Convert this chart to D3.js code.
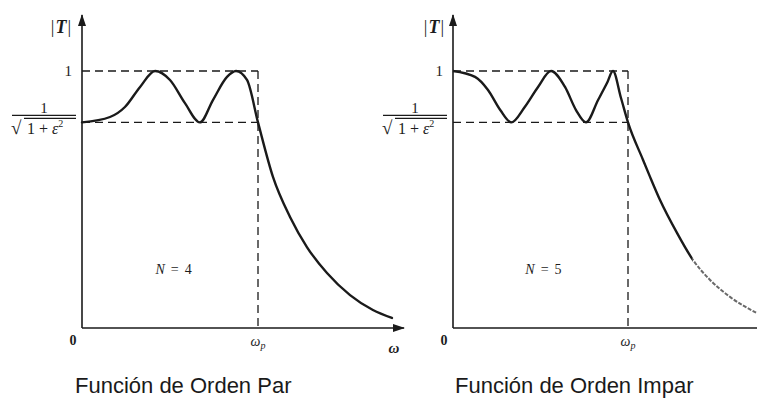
<!DOCTYPE html>
<html>
<head>
<meta charset="utf-8">
<script src="https://cdn.jsdelivr.net/npm/d3@7"></script>
<style>
  html, body { margin: 0; padding: 0; background: #fff; }
  svg { display: block; }
  .math { font-family: "Liberation Serif", "DejaVu Serif", serif; fill: #1c1c1c; }
  .caption { font-family: "Liberation Sans", Arial, sans-serif; fill: #1a1a1a; }
</style>
</head>
<body>
<svg id="chart" width="757" height="398"></svg>
<script>
// Chebyshev low-pass magnitude |T(ω)|, frequency normalised so that ωp = 1.
// Even order (N = 4): passband starts at the ripple floor.
const omegaPar = [0, 0.159, 0.244, 0.33, 0.415, 0.5, 0.585, 0.67, 0.744, 0.824, 0.875, 0.9375,
                  1.0, 1.085, 1.182, 1.278, 1.392, 1.523, 1.653, 1.761];
const magPar   = [0.80, 0.821, 0.860, 0.938, 1.0, 0.965, 0.875, 0.80, 0.887, 0.977, 1.0, 0.965,
                  0.80, 0.588, 0.432, 0.315, 0.214, 0.128, 0.070, 0.039];

// Odd order (N = 5): passband starts at unity.
const omegaImpar = [0, 0.126, 0.2, 0.27, 0.333, 0.41, 0.486, 0.56, 0.64, 0.703, 0.76, 0.829, 0.88, 0.914, 0.96,
                    1.0, 1.086, 1.126, 1.183, 1.28, 1.371, 1.469, 1.583, 1.737];
const magImpar   = [1.0, 0.977, 0.926, 0.848, 0.80, 0.86, 0.938, 1.0, 0.938, 0.848, 0.80, 0.887, 0.953, 1.0, 0.895,
                    0.80, 0.654, 0.588, 0.498, 0.370, 0.265, 0.187, 0.121, 0.058];

// Ripple band: upper level 1, lower level 1/√(1+ε²)
const rippleTop = 1;
const rippleFloor = 0.8;
const passbandEdge = 1;

const orders = [4, 5];
const captions = ["Función de Orden Par", "Función de Orden Impar"];

const svg = d3.select("#chart");
const ink = "#1a1a1a";

const defs = svg.append("defs");
defs.append("marker")
  .attr("id", "arrow")
  .attr("viewBox", "0 0 12 8")
  .attr("refX", 11).attr("refY", 4)
  .attr("markerWidth", 12).attr("markerHeight", 8)
  .attr("markerUnits", "userSpaceOnUse")
  .attr("orient", "auto")
  .append("path")
  .attr("d", "M0,0 L12,4 L0,8 Z")
  .attr("fill", ink);

const y = d3.scaleLinear().domain([0, 1]).range([328, 71]);
const yAxisTop = 15;

const panels = [
  { omega: omegaPar, mag: magPar, order: orders[0], caption: captions[0],
    x0: 82, xEdge: 258, axisEnd: 404, axisLabel: true, fadeFrom: null,
    fracLeft: 12, titleGap: 10, capX: 75, orderAt: 0.52 },
  { omega: omegaImpar, mag: magImpar, order: orders[1], caption: captions[1],
    x0: 453, xEdge: 628, axisEnd: 800, axisLabel: false, fadeFrom: 1.37,
    fracLeft: 383, titleGap: 8, capX: 455, orderAt: 0.517 }
];

panels.forEach((p, i) => {
  const g = svg.append("g");
  const x = d3.scaleLinear().domain([0, passbandEdge]).range([p.x0, p.xEdge]);
  const xMax = x.invert(p.axisEnd);

  // axes with arrowheads
  g.append("line")
    .attr("x1", x(0)).attr("y1", y(0)).attr("x2", x(xMax)).attr("y2", y(0))
    .attr("stroke", ink).attr("stroke-width", 1.6)
    .attr("marker-end", p.axisLabel ? "url(#arrow)" : null);
  g.append("line")
    .attr("x1", x(0)).attr("y1", y(0)).attr("x2", x(0)).attr("y2", yAxisTop)
    .attr("stroke", ink).attr("stroke-width", 1.6)
    .attr("marker-end", "url(#arrow)");

  // dashed ripple band and passband edge
  const dashed = (x1, y1, x2, y2) => g.append("line")
    .attr("x1", x1).attr("y1", y1).attr("x2", x2).attr("y2", y2)
    .attr("stroke", ink).attr("stroke-width", 1.3)
    .attr("stroke-dasharray", "8,5").attr("fill", "none");
  dashed(x(0), y(rippleTop), x(passbandEdge), y(rippleTop));
  dashed(x(0), y(rippleFloor), x(passbandEdge), y(rippleFloor));
  dashed(x(passbandEdge), y(rippleTop), x(passbandEdge), y(0));

  // response curve
  const pts = p.omega.map((w, k) => [w, p.mag[k]]);
  const line = d3.line().x(d => x(d[0])).y(d => y(d[1])).curve(d3.curveMonotoneX);

  if (p.fadeFrom == null) {
    g.append("path").attr("d", line(pts))
      .attr("fill", "none").attr("stroke", ink).attr("stroke-width", 2.4)
      .attr("stroke-linecap", "round");
  } else {
    // far end of the stopband is printed faintly
    const cut = x(p.fadeFrom);
    defs.append("clipPath").attr("id", "solid" + i)
      .append("rect").attr("x", 0).attr("y", 0).attr("width", cut).attr("height", 398);
    defs.append("clipPath").attr("id", "faded" + i)
      .append("rect").attr("x", cut).attr("y", 0).attr("width", 757 - cut).attr("height", 398);
    g.append("path").attr("d", line(pts)).attr("clip-path", `url(#solid${i})`)
      .attr("fill", "none").attr("stroke", ink).attr("stroke-width", 2.4);
    g.append("path").attr("d", line(pts)).attr("clip-path", `url(#faded${i})`)
      .attr("fill", "none").attr("stroke", "#6a6a6a").attr("stroke-width", 2)
      .attr("stroke-dasharray", "4,1.5");
  }

  // |T| axis title
  const tt = g.append("text").attr("class", "math")
    .attr("x", x(0) - p.titleGap).attr("y", 33).attr("text-anchor", "end")
    .attr("font-size", 18).attr("letter-spacing", 1);
  tt.append("tspan").text("|");
  tt.append("tspan").attr("font-style", "italic").attr("font-weight", "bold").text("T");
  tt.append("tspan").text("|");

  // level "1"
  g.append("text").attr("class", "math")
    .attr("x", x(0) - 10).attr("y", y(rippleTop) + 5).attr("text-anchor", "end")
    .attr("font-size", 15).text("1");

  // level 1/√(1+ε²)
  const fl = p.fracLeft, fr = x(0) - 6;
  const barY = y(rippleFloor) - 7;
  g.append("text").attr("class", "math")
    .attr("x", (fl + fr) / 2).attr("y", barY - 2).attr("text-anchor", "middle")
    .attr("font-size", 15).text("1");
  g.append("line").attr("x1", fl).attr("x2", fr).attr("y1", barY).attr("y2", barY)
    .attr("stroke", ink).attr("stroke-width", 1.4);
  g.append("text").attr("class", "math")
    .attr("x", fl - 1).attr("y", barY + 19).attr("font-size", 19).text("√");
  g.append("line").attr("x1", fl + 12).attr("x2", fr).attr("y1", barY + 3).attr("y2", barY + 3)
    .attr("stroke", ink).attr("stroke-width", 1.1);
  const den = g.append("text").attr("class", "math")
    .attr("x", fl + 15).attr("y", barY + 19).attr("font-size", 16);
  den.append("tspan").text("1 + ");
  den.append("tspan").attr("font-style", "italic").text("ε");
  den.append("tspan").attr("font-size", 10).attr("dy", -7).text("2");

  // tick labels on ω axis
  g.append("text").attr("class", "math")
    .attr("x", x(0) - 9).attr("y", y(0) + 17).attr("text-anchor", "middle")
    .attr("font-size", 14).attr("font-weight", "bold").text("0");
  const wp = g.append("text").attr("class", "math")
    .attr("x", x(passbandEdge)).attr("y", y(0) + 18).attr("text-anchor", "middle")
    .attr("font-size", 14).attr("font-style", "italic");
  wp.append("tspan").text("ω");
  wp.append("tspan").attr("font-size", 10).attr("dy", 3).text("p");
  if (p.axisLabel) {
    g.append("text").attr("class", "math")
      .attr("x", x(xMax) - 10).attr("y", y(0) + 25).attr("text-anchor", "middle")
      .attr("font-size", 15).attr("font-style", "italic").attr("font-weight", "bold").text("ω");
  }

  // filter order
  const nt = g.append("text").attr("class", "math")
    .attr("x", x(p.orderAt)).attr("y", 274).attr("text-anchor", "middle").attr("font-size", 14);
  nt.append("tspan").attr("font-style", "italic").text("N");
  nt.append("tspan").attr("dx", 6).text("=");
  nt.append("tspan").attr("dx", 6).text(p.order);

  // caption
  g.append("text").attr("class", "caption")
    .attr("x", p.capX).attr("y", 393).attr("font-size", 22).text(p.caption);
});
</script>
</body>
</html>
